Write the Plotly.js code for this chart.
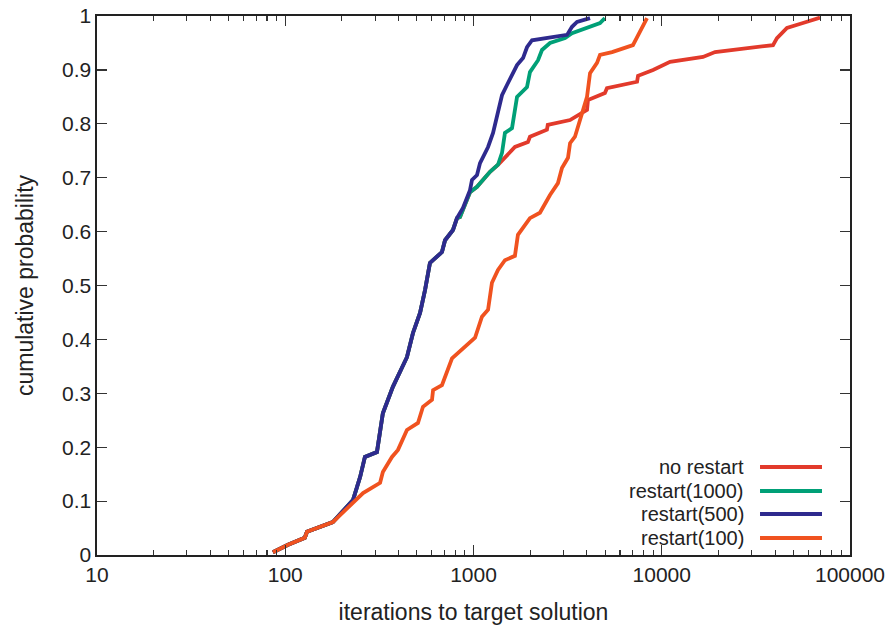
<!DOCTYPE html>
<html>
<head>
<meta charset="utf-8">
<script src="https://cdn.plot.ly/plotly-3.0.1.min.js"></script>
<style>html,body{margin:0;padding:0;background:#fff;}#chart{width:893px;height:627px;}</style>
</head>
<body>
<div id="chart"></div>
<script>
// Series names and colours
const seriesNames = ["no restart", "restart(1000)", "restart(500)", "restart(100)"];
const seriesColors = ["#e23a2b", "#00a077", "#2e2a8e", "#f0521f"];

// Shared start of all curves
const commonX = [86, 103.5, 127, 130.5, 179];
const commonP = [0.005, 0.019, 0.032, 0.043, 0.061];

// restart(500)
const r500X = [229, 250, 265, 307, 330, 373, 417, 443, 477, 520, 553, 587, 680, 706, 778, 817, 879, 958, 982, 1044, 1083, 1195, 1270, 1384, 1417, 1506, 1602, 1703, 1833, 1924, 2046, 3141, 3337, 3548, 4160];
const r500P = [0.102, 0.145, 0.182, 0.191, 0.263, 0.312, 0.347, 0.367, 0.412, 0.449, 0.492, 0.542, 0.562, 0.584, 0.603, 0.625, 0.644, 0.677, 0.696, 0.705, 0.727, 0.757, 0.783, 0.839, 0.853, 0.872, 0.891, 0.909, 0.922, 0.942, 0.955, 0.965, 0.980, 0.989, 0.996];

// restart(1000): follows restart(500) up to 817, then diverges
const r1000X = [848, 958, 1044, 1224, 1349, 1417, 1469, 1602, 1703, 1924, 1995, 2202, 2311, 2549, 3065, 3337, 4700, 4989];
const r1000P = [0.627, 0.673, 0.683, 0.711, 0.724, 0.746, 0.783, 0.792, 0.850, 0.868, 0.896, 0.918, 0.937, 0.950, 0.959, 0.968, 0.987, 0.996];
const r1000SharedCount = 16; // number of restart(500) points shared

// no restart: follows restart(1000) up to 1349, then diverges
const noRestartX = [1660, 1946, 1995, 2455, 2480, 3258, 3589, 4009, 4055, 4989, 5117, 7392, 7482, 8990, 11070, 16560, 19190, 38990, 40930, 46260, 56240, 69330];
const noRestartP = [0.757, 0.766, 0.776, 0.789, 0.798, 0.807, 0.816, 0.826, 0.844, 0.857, 0.866, 0.878, 0.889, 0.900, 0.915, 0.924, 0.933, 0.946, 0.959, 0.978, 0.987, 0.997];
const noRestartSharedCount = 5; // number of restart(1000) points shared

// restart(100)
const r100X = [229, 259, 319, 330, 369, 397, 443, 507, 539, 602, 610, 680, 769, 1019, 1109, 1195, 1253, 1349, 1469, 1660, 1722, 1995, 2254, 2549, 2810, 2951, 3177, 3258, 3459, 4009, 4160, 4530, 4700, 5445, 7030, 7392, 8350];
const r100P = [0.098, 0.115, 0.134, 0.154, 0.182, 0.195, 0.232, 0.245, 0.275, 0.288, 0.306, 0.315, 0.365, 0.403, 0.442, 0.455, 0.505, 0.529, 0.547, 0.555, 0.594, 0.625, 0.635, 0.668, 0.690, 0.718, 0.737, 0.764, 0.776, 0.850, 0.894, 0.913, 0.928, 0.933, 0.946, 0.961, 0.996];

// Axis ticks
const xTickVals = [10, 100, 1000, 10000, 100000];
const xTickText = ["10", "100", "1000", "10000", "100000"];
const yTickVals = [0, 0.1, 0.2, 0.3, 0.4, 0.5, 0.6, 0.7, 0.8, 0.9, 1];
const yTickText = ["0", "0.1", "0.2", "0.3", "0.4", "0.5", "0.6", "0.7", "0.8", "0.9", "1"];

// Build full series
const s500X = commonX.concat(r500X), s500P = commonP.concat(r500P);
const s1000X = s500X.slice(0, commonX.length + r1000SharedCount).concat(r1000X);
const s1000P = s500P.slice(0, commonP.length + r1000SharedCount).concat(r1000P);
const nrShareLen = commonX.length + r1000SharedCount + noRestartSharedCount;
const sNoX = s1000X.slice(0, nrShareLen).concat(noRestartX);
const sNoP = s1000P.slice(0, nrShareLen).concat(noRestartP);
const s100X = commonX.concat(r100X), s100P = commonP.concat(r100P);

const allX = [sNoX, s1000X, s500X, s100X];
const allP = [sNoP, s1000P, s500P, s100P];

const traces = allX.map((xs, i) => ({
  x: xs, y: allP[i], type: "scatter", mode: "lines", name: seriesNames[i],
  line: {color: seriesColors[i], width: 3.8}, showlegend: false, hoverinfo: "skip"
}));

// minor ticks positions on log axis
const minorVals = [];
for (let d = 10; d < 100000; d *= 10) for (let k = 2; k <= 9; k++) minorVals.push(d * k);

const fam = "Liberation Sans, Arial, sans-serif";
const tickFont = {family: fam, size: 21, color: "#222"};
const xTitleFont = {family: fam, size: 23, color: "#222"};
const yTitleFont = {family: fam, size: 23, color: "#222"};
const legFont = {family: fam, size: 20, color: "#222"};

// custom legend (text right, sample line on right)
const legTextX = 0.8606, legLineX0 = 0.8805, legLineX1 = 0.9628;
const legRowsY = [0.1633, 0.1187, 0.0761, 0.0315];
const annotations = seriesNames.map((n, i) => ({
  xref: "paper", yref: "paper", x: legTextX, y: legRowsY[i], text: n, showarrow: false,
  xanchor: "right", yanchor: "middle", font: legFont, borderpad: 0
}));
const shapes = seriesNames.map((n, i) => ({
  type: "line", xref: "paper", yref: "paper", x0: legLineX0, x1: legLineX1, y0: legRowsY[i], y1: legRowsY[i],
  line: {color: seriesColors[i], width: 3.8}
}));

const layout = {
  width: 893, height: 627,
  margin: {l: 97, r: 43, t: 16, b: 72},
  paper_bgcolor: "#fff", plot_bgcolor: "#fff",
  font: tickFont,
  showlegend: false,
  xaxis: {
    type: "log", range: [1, 5], tickmode: "array", tickvals: xTickVals, ticktext: xTickText,
    ticks: "inside", ticklen: 10, tickwidth: 1.2, tickcolor: "#333",
    showline: true, linecolor: "#222", linewidth: 1.6, mirror: "allticks",
    showgrid: false, zeroline: false,
    minor: {tickmode: "array", tickvals: minorVals, ticks: "inside", ticklen: 5, tickwidth: 1.1, tickcolor: "#333", showgrid: false},
    title: {text: "iterations to target solution", font: xTitleFont, standoff: 19},
    tickfont: tickFont
  },
  yaxis: {
    range: [0, 1], tickmode: "array", tickvals: yTickVals, ticktext: yTickText,
    ticks: "inside", ticklen: 10, tickwidth: 1.2, tickcolor: "#333",
    showline: true, linecolor: "#222", linewidth: 1.6, mirror: "allticks",
    showgrid: false, zeroline: false,
    title: {text: "cumulative probability", font: yTitleFont, standoff: 22},
    tickfont: tickFont
  },
  annotations: annotations,
  shapes: shapes
};

Plotly.newPlot("chart", traces, layout, {staticPlot: true, displayModeBar: false});
</script>
</body>
</html>
